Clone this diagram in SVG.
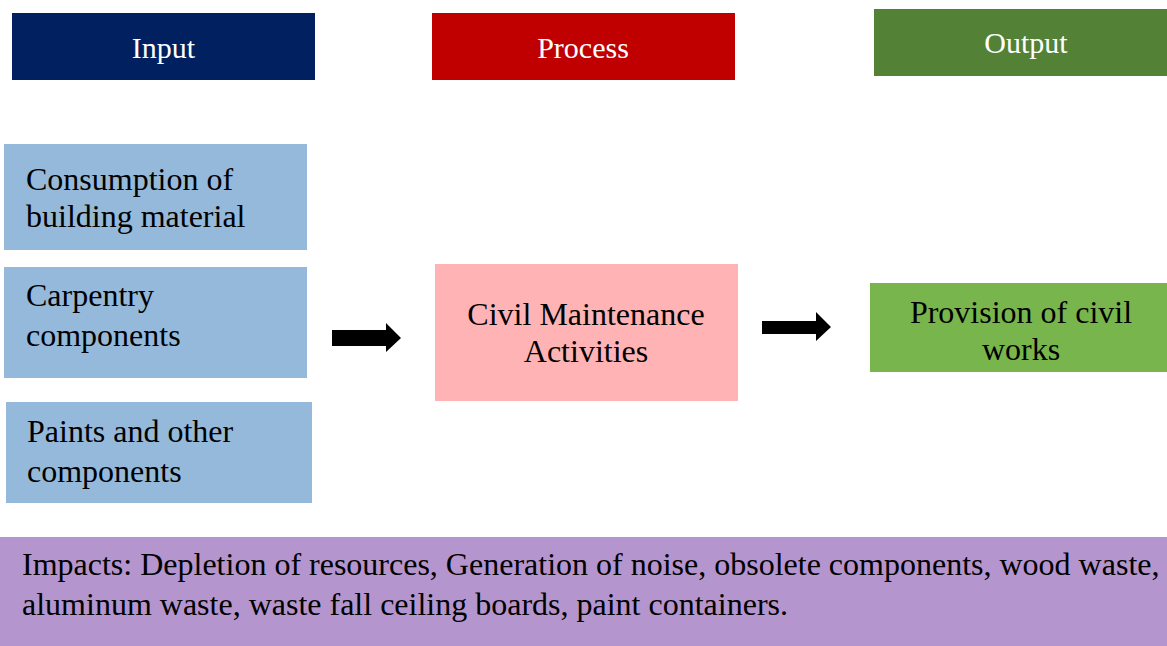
<svg xmlns="http://www.w3.org/2000/svg" width="1167" height="646" viewBox="0 0 1167 646">
<style>
text{font-family:"Liberation Serif","Times New Roman",serif;font-size:32px;fill:#000}
.hd{fill:#fff;text-anchor:middle;font-size:30px}
.c{text-anchor:middle}
.in{fill:#95B9DA}
</style>
<rect width="1167" height="646" fill="#fff"/>
<g id="input-header"><rect x="12" y="13" width="303" height="67" fill="#002060"/><text class="hd" x="163.5" y="58">Input</text></g>
<g id="process-header"><rect x="432" y="13" width="303" height="67" fill="#C00000"/><text class="hd" x="583" y="58">Process</text></g>
<g id="output-header"><rect x="874" y="9" width="293" height="67" fill="#538135"/><text class="hd" x="1026" y="53">Output</text></g>
<g id="consumption"><rect class="in" x="4" y="144" width="303" height="106"/><text x="26" y="190">Consumption of</text><text x="26" y="227">building material</text></g>
<g id="carpentry"><rect class="in" x="4" y="267" width="303" height="111"/><text x="26" y="306">Carpentry</text><text x="26" y="346">components</text></g>
<g id="paints"><rect class="in" x="6" y="402" width="306" height="101"/><text x="27" y="442">Paints and other</text><text x="27" y="482">components</text></g>
<g id="civil"><rect x="435" y="264" width="303" height="137" fill="#FFB3B5"/><text class="c" x="586" y="325">Civil Maintenance</text><text class="c" x="586" y="362">Activities</text></g>
<g id="provision"><rect x="870" y="283" width="297" height="89" fill="#78B54C"/><text class="c" x="1021" y="323">Provision of civil</text><text class="c" x="1021" y="360">works</text></g>
<g id="impacts"><rect x="0" y="537" width="1167" height="109" fill="#B595CE"/><text x="22" y="575">Impacts: Depletion of resources, Generation of noise, obsolete components, wood waste,</text><text x="22" y="615">aluminum waste, waste fall ceiling boards, paint containers.</text></g>
<g id="connectors" fill="#000">
<polygon points="332,330 386,330 386,323 401,338 386,352 386,346 332,346"/>
<polygon points="762,321 816,321 816,312 831,327 816,341 816,334 762,334"/>
</g>
</svg>
